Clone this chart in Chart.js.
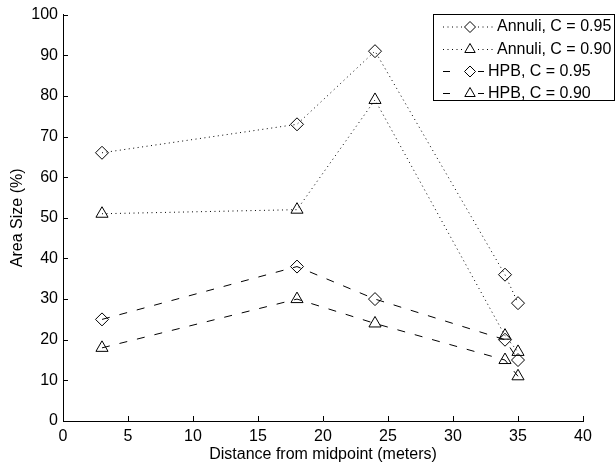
<!DOCTYPE html>
<html>
<head>
<meta charset="utf-8">
<script src="https://cdn.jsdelivr.net/npm/chart.js@4/dist/chart.umd.min.js"></script>
<style>
  html, body { margin: 0; padding: 0; background: #fff; }
  #wrap { width: 616px; height: 468px; }
</style>
</head>
<body>
<div id="wrap"><canvas id="c" width="616" height="468"></canvas></div>
<script>
// Distance of each measurement site from the midpoint (meters)
const distances = [3, 18, 24, 34, 35];

// Area size (%) per method and confidence level
const annuli95 = [66, 73, 91, 36, 29];
const annuli90 = [51, 52, 79, 21, 17];
const hpb95 = [25, 38, 30, 20, 15];
const hpb90 = [18, 30, 24, 15, 11];

const seriesLabels = ['Annuli, C = 0.95', 'Annuli, C = 0.90', 'HPB, C = 0.95', 'HPB, C = 0.90'];

// Axis ranges and tick steps
const xRange = [0, 40];
const xStep = 5;
const yRange = [0, 100];
const yStep = 10;

const xTitle = 'Distance from midpoint (meters)';
const yTitle = 'Area Size (%)';

const FONT = "'Liberation Sans', Arial, Helvetica, sans-serif";
const DOTTED = [1, 3.5];
const DASHED = [8, 10];

function points(ys) {
  return distances.map((x, i) => ({ x: x, y: ys[i] }));
}

function series(label, ys, dash, style, radius) {
  return {
    label: label,
    data: points(ys),
    borderColor: '#000',
    borderWidth: 1,
    borderDash: dash,
    fill: false,
    tension: 0,
    pointStyle: style,
    pointRadius: radius,
    pointBorderWidth: 1,
    pointBorderColor: '#000',
    pointBackgroundColor: 'rgba(0,0,0,0)'
  };
}

// Tick marks drawn on the inside of the axes
const inwardTicks = {
  id: 'inwardTicks',
  afterDraw(chart) {
    const { ctx, chartArea: a, scales: { x, y } } = chart;
    ctx.save();
    ctx.strokeStyle = '#000';
    ctx.lineWidth = 1;
    ctx.beginPath();
    x.ticks.forEach(t => {
      const px = Math.round(x.getPixelForValue(t.value)) + 0.5;
      ctx.moveTo(px, a.bottom);
      ctx.lineTo(px, a.bottom - 5);
    });
    y.ticks.forEach(t => {
      const py = Math.round(y.getPixelForValue(t.value)) + 0.5;
      ctx.moveTo(a.left, py);
      ctx.lineTo(a.left + 5, py);
    });
    ctx.stroke();
    ctx.restore();
  }
};

// Boxed legend in the upper right corner
const boxLegend = {
  id: 'boxLegend',
  afterDraw(chart) {
    const ctx = chart.ctx;
    const box = { x: 433.5, y: 14.5, w: 181, h: 86 };
    const rowY = [27, 49.5, 71.5, 93.5];
    ctx.save();
    ctx.fillStyle = '#fff';
    ctx.fillRect(box.x, box.y, box.w, box.h);
    ctx.strokeStyle = '#000';
    ctx.lineWidth = 1;
    ctx.setLineDash([]);
    ctx.strokeRect(box.x, box.y, box.w, box.h);

    chart.data.datasets.forEach((ds, i) => {
      const yy = rowY[i];
      const dotted = ds.borderDash === DOTTED;
      ctx.strokeStyle = ds.borderColor;
      ctx.lineWidth = ds.borderWidth;
      ctx.beginPath();
      if (dotted) {
        ctx.setLineDash(ds.borderDash);
        ctx.moveTo(443, yy);
        ctx.lineTo(463, yy);
        ctx.moveTo(478, yy);
        ctx.lineTo(493, yy);
      } else {
        ctx.setLineDash([]);
        ctx.moveTo(443, yy);
        ctx.lineTo(450, yy);
        ctx.moveTo(478, yy);
        ctx.lineTo(484, yy);
      }
      ctx.stroke();
      ctx.setLineDash([]);
      ctx.fillStyle = 'rgba(0,0,0,0)';
      Chart.helpers.drawPoint(ctx, {
        pointStyle: ds.pointStyle,
        radius: ds.pointRadius - 1,
        borderWidth: ds.pointBorderWidth,
        rotation: 0
      }, 470, yy);

      ctx.fillStyle = '#000';
      ctx.font = '16px ' + FONT;
      ctx.textAlign = 'left';
      ctx.textBaseline = 'middle';
      ctx.fillText(ds.label, dotted ? 497 : 488, yy);
    });
    ctx.restore();
  }
};

new Chart(document.getElementById('c'), {
  type: 'line',
  data: {
    datasets: [
      series(seriesLabels[0], annuli95, DOTTED, 'rectRot', 6.5),
      series(seriesLabels[1], annuli90, DOTTED, 'triangle', 7),
      series(seriesLabels[2], hpb95, DASHED, 'rectRot', 6.5),
      series(seriesLabels[3], hpb90, DASHED, 'triangle', 7)
    ]
  },
  options: {
    responsive: false,
    animation: false,
    events: [],
    devicePixelRatio: 1,
    layout: { padding: { left: 0, top: 11, right: 33, bottom: 0 } },
    plugins: {
      legend: { display: false },
      tooltip: { enabled: false }
    },
    scales: {
      x: {
        type: 'linear',
        min: xRange[0],
        max: xRange[1],
        ticks: {
          stepSize: xStep,
          color: '#000',
          font: { family: FONT, size: 16 },
          padding: 6,
          maxRotation: 0
        },
        grid: { display: false, drawTicks: false },
        border: { display: true, color: '#000', width: 1 },
        title: {
          display: true,
          text: xTitle,
          color: '#000',
          font: { family: FONT, size: 16 },
          padding: { top: 0, bottom: 4 }
        },
        afterFit(scale) { scale.height = 47; }
      },
      y: {
        type: 'linear',
        min: yRange[0],
        max: yRange[1],
        ticks: {
          stepSize: yStep,
          color: '#000',
          font: { family: FONT, size: 16 },
          padding: 5
        },
        grid: { display: false, drawTicks: false },
        border: { display: true, color: '#000', width: 1 },
        title: {
          display: true,
          text: yTitle,
          color: '#000',
          font: { family: FONT, size: 16 },
          padding: { top: 8, bottom: 0 }
        },
        afterFit(scale) { scale.width = 63; }
      }
    }
  },
  plugins: [inwardTicks, boxLegend]
});
</script>
</body>
</html>
